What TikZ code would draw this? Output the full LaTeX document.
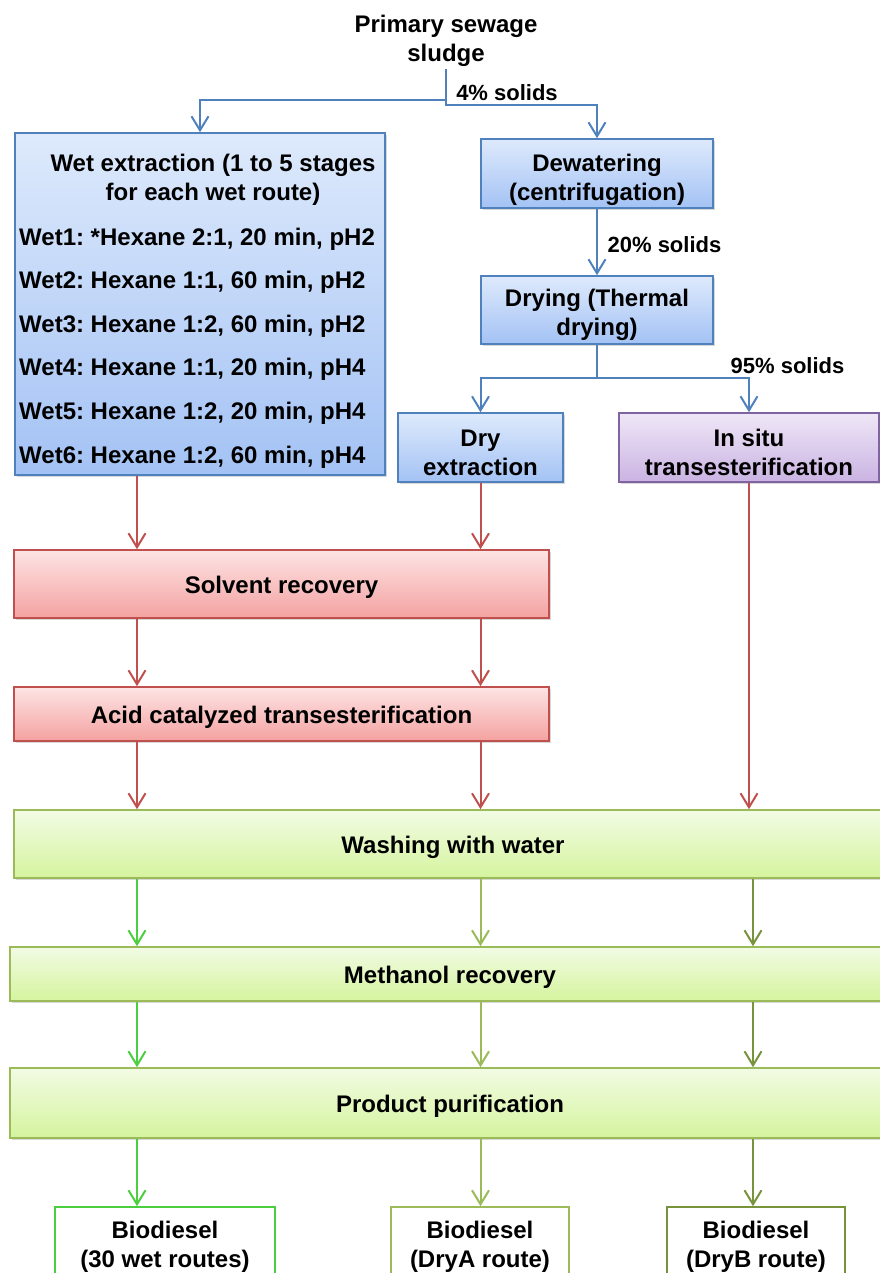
\documentclass[tikz,border=0pt]{standalone}
\usepackage{fontspec}
\setmainfont{Liberation Sans}
\usetikzlibrary{arrows.meta,shadows,calc}

\definecolor{bluedraw}{HTML}{4F81BD}
\definecolor{bluetop}{HTML}{DEEAFC}
\definecolor{bluebot}{HTML}{A3C2F4}
\definecolor{reddraw}{HTML}{C0504D}
\definecolor{redtop}{HTML}{FDE4E4}
\definecolor{redbot}{HTML}{F4A2A1}
\definecolor{greendraw}{HTML}{9BBB59}
\definecolor{greentop}{HTML}{F2FBE4}
\definecolor{greenbot}{HTML}{D5F49E}
\definecolor{purpledraw}{HTML}{8064A2}
\definecolor{purpletop}{HTML}{EFE7F7}
\definecolor{purplebot}{HTML}{CAB3E2}
\definecolor{brightgreen}{HTML}{4CCF3E}
\definecolor{olivegreen}{HTML}{77933C}

\begin{document}
\frenchspacing
\begin{tikzpicture}[x=1pt,y=-1pt,
  font=\fontsize{24}{29}\selectfont\bfseries,
  txt/.style={align=center, inner sep=2pt},
  item/.style={anchor=base west, inner sep=0pt},
  lbl/.style={font=\fontsize{22}{26}\selectfont\bfseries, inner sep=1pt},
  boxbase/.style={rectangle, line width=1.6pt, inner sep=0pt,
    drop shadow={shadow xshift=1.5pt, shadow yshift=-2pt, opacity=0.3}},
  onetext/.style={text height=20pt, text depth=0.8pt},
  bluebox/.style={boxbase, draw=bluedraw, top color=bluetop, bottom color=bluebot},
  redbox/.style={boxbase, onetext, draw=reddraw, top color=redtop, bottom color=redbot},
  greenbox/.style={boxbase, onetext, draw=greendraw, top color=greentop, bottom color=greenbot},
  purplebox/.style={boxbase, draw=purpledraw, top color=purpletop, bottom color=purplebot},
  outbox/.style={rectangle, line width=1.6pt, fill=white, inner sep=0pt},
  link/.style={line width=2pt, -{Straight Barb[length=14pt,width=17pt]}},
]
\fill[white] (0,0) rectangle (879,1273);
\useasboundingbox (0,0) rectangle (879,1273);

% column positions for the vertical connectors
\coordinate (c1) at (137,0);
\coordinate (c2) at (480.5,0);
\coordinate (c3) at (749,0);
\coordinate (g3) at (753,0);

% source
\node[txt, inner sep=3pt] (src) at (446,40.5) {Primary sewage\\sludge};
\coordinate (s1) at (446,100);
\coordinate (s2) at (446,105);
\node[lbl] (l4) at (507,93) {4\% solids};

% wet route
\node[bluebox, minimum width=370pt, minimum height=342pt] (wet) at (200,304) {};
\node[txt] (wettitle) at (213,180) {Wet extraction (1 to 5 stages\\for each wet route)};
\node[item] (w1) at (19,245) {Wet1: *Hexane 2:1, 20 min, pH2};
\node[item] (w2) at (19,288.6) {Wet2: Hexane 1:1, 60 min, pH2};
\node[item] (w3) at (19,332.2) {Wet3: Hexane 1:2, 60 min, pH2};
\node[item] (w4) at (19,375.8) {Wet4: Hexane 1:1, 20 min, pH4};
\node[item] (w5) at (19,419.4) {Wet5: Hexane 1:2, 20 min, pH4};
\node[item] (w6) at (19,463) {Wet6: Hexane 1:2, 60 min, pH4};

% dry route
\node[bluebox, minimum width=232pt, minimum height=69pt] (dew) at (597,173.5) {};
\node[txt] (dewt) at (597,179.5) {Dewatering\\(centrifugation)};
\node[bluebox, minimum width=232pt, minimum height=68pt] (dry) at (597,310) {};
\node[txt] (dryt) at (597,314.5) {Drying (Thermal\\drying)};
\node[lbl] (l20) at (664.5,245) {20\% solids};
\coordinate (d1) at (597,378);
\node[lbl] (l95) at (787.5,366) {95\% solids};
\node[bluebox, minimum width=165pt, minimum height=69pt] (dryex) at (480.5,447.5) {};
\node[txt] (dryext) at (480.5,452.5) {Dry\\extraction};
\node[purplebox, minimum width=260pt, minimum height=69pt] (insitu) at (749,447.5) {};
\node[txt] (insitut) at (749,452.5) {In situ\\transesterification};

% common processing steps
\node[redbox, minimum width=535pt, minimum height=68pt] (solv) at (281.5,584) {Solvent recovery};
\node[redbox, minimum width=535pt, minimum height=54pt] (acid) at (281.5,714) {Acid catalyzed transesterification};
\node[greenbox, minimum width=878pt, minimum height=68pt] (wash) at (453,844) {Washing with water};
\node[greenbox, minimum width=880pt, minimum height=54pt] (meth) at (450,974) {Methanol recovery};
\node[greenbox, minimum width=880pt, minimum height=70pt] (prod) at (450,1103) {Product purification};

% products
\node[outbox, draw=brightgreen, minimum width=220pt, minimum height=90pt] (bio1) at (165,1252) {};
\node[txt] (bio1t) at (165,1246.5) {Biodiesel\\(30 wet routes)};
\node[outbox, draw=greendraw, minimum width=178pt, minimum height=90pt] (bio2) at (480,1252) {};
\node[txt] (bio2t) at (480,1246.5) {Biodiesel\\(DryA route)};
\node[outbox, draw=olivegreen, minimum width=178pt, minimum height=90pt] (bio3) at (756,1252) {};
\node[txt] (bio3t) at (756,1246.5) {Biodiesel\\(DryB route)};

% blue connectors
\draw[link, bluedraw] (src.south) -- (s1) -| (wet.north);
\draw[link, bluedraw] (src.south) -- (s2) -| (dew.north);
\draw[link, bluedraw] (dew.south) -- (dry.north);
\draw[link, bluedraw] (dry.south) -- (d1) -| (dryex.north);
\draw[link, bluedraw] (dry.south) -- (d1) -| (insitu.north);

% red connectors
\draw[link, reddraw] (wet.south -| c1) -- (solv.north -| c1);
\draw[link, reddraw] (dryex.south -| c2) -- (solv.north -| c2);
\draw[link, reddraw] (solv.south -| c1) -- (acid.north -| c1);
\draw[link, reddraw] (solv.south -| c2) -- (acid.north -| c2);
\draw[link, reddraw] (acid.south -| c1) -- (wash.north -| c1);
\draw[link, reddraw] (acid.south -| c2) -- (wash.north -| c2);
\draw[link, reddraw] (insitu.south -| c3) -- (wash.north -| c3);

% green connectors
\draw[link, brightgreen] (wash.south -| c1) -- (meth.north -| c1);
\draw[link, greendraw] (wash.south -| c2) -- (meth.north -| c2);
\draw[link, olivegreen] (wash.south -| g3) -- (meth.north -| g3);
\draw[link, brightgreen] (meth.south -| c1) -- (prod.north -| c1);
\draw[link, greendraw] (meth.south -| c2) -- (prod.north -| c2);
\draw[link, olivegreen] (meth.south -| g3) -- (prod.north -| g3);
\draw[link, brightgreen] (prod.south -| c1) -- (bio1.north -| c1);
\draw[link, greendraw] (prod.south -| c2) -- (bio2.north -| c2);
\draw[link, olivegreen] (prod.south -| g3) -- (bio3.north -| g3);
\end{tikzpicture}
\end{document}
